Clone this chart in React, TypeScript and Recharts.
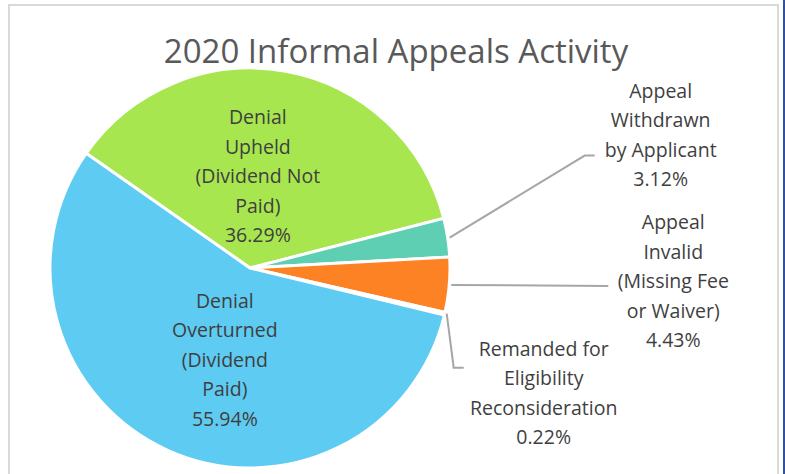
import { Cell, Pie, PieChart } from "recharts";

const categories = [
  "Denial\nUpheld\n(Dividend Not\nPaid)",
  "Appeal\nWithdrawn\nby Applicant",
  "Appeal\nInvalid\n(Missing Fee\nor Waiver)",
  "Remanded for\nEligibility\nReconsideration",
  "Denial\nOverturned\n(Dividend\nPaid)",
];
const shares = [36.29, 3.12, 4.43, 0.22, 55.94];
const colors = ["#a8e64f", "#5ecfb2", "#fd8224", "#ffd24d", "#5ecbf2"];

const data = categories.map((name, i) => ({ name, value: shares[i] }));

// label placement per slice: inside labels sit on the mid-angle ray,
// outside labels hang off the rim with an elbow leader line
const layout = [
  { inside: true, r: 0.47, dx: -9, dy: 0 },
  { inside: false, elbow: [137, -82], end: [147, -82], text: [213, -103] },
  { inside: false, elbow: [159, 1], end: [159, 1], text: [224, -4] },
  { inside: false, elbow: [9, 54], end: [19, 54], text: [99, 79] },
  { inside: true, r: 0.5, dx: 16, dy: 0 },
];

const RAD = Math.PI / 180;
const LINE_H = 29.5;
const textColor = "#3f3f3f";
const font = "'Open Sans', sans-serif";

function renderLabel(props: any) {
  const { cx, cy, midAngle, outerRadius, index, value } = props;
  const cfg: any = layout[index];
  const lines = [...categories[index].split("\n"), `${value.toFixed(2)}%`];
  const cos = Math.cos(-midAngle * RAD);
  const sin = Math.sin(-midAngle * RAD);
  let tx: number;
  let ty: number;
  let leader = null;
  if (cfg.inside) {
    const r = outerRadius * cfg.r;
    tx = cx + r * cos + cfg.dx;
    ty = cy + r * sin + cfg.dy;
  } else {
    const ex = cx + outerRadius * cos;
    const ey = cy + outerRadius * sin;
    tx = ex + cfg.text[0];
    ty = ey + cfg.text[1];
    leader = (
      <polyline
        points={`${ex + 2},${ey} ${ex + cfg.elbow[0]},${ey + cfg.elbow[1]} ${ex + cfg.end[0]},${ey + cfg.end[1]}`}
        fill="none"
        stroke="#a6a6a6"
        strokeWidth={2}
      />
    );
  }
  const top = ty - ((lines.length - 1) * LINE_H) / 2;
  return (
    <g key={`lbl-${index}`}>
      {leader}
      <text
        x={tx}
        y={top}
        textAnchor="middle"
        fill={textColor}
        fontSize={19.5}
        fontFamily={font}
      >
        {lines.map((l, i) => (
          <tspan key={i} x={tx} y={top + i * LINE_H} dominantBaseline="central">
            {l}
          </tspan>
        ))}
      </text>
    </g>
  );
}

export default function App() {
  return (
    <div
      style={{
        position: "absolute",
        left: 0,
        top: 0,
        width: 785,
        height: 474,
        background: "#fff",
        overflow: "hidden",
      }}
    >
      <div
        style={{
          position: "absolute",
          left: 8,
          top: 4,
          width: 771,
          height: 480,
          border: "2px solid #d9d9d9",
          boxSizing: "border-box",
        }}
      />
      <div
        style={{
          position: "absolute",
          left: 783,
          top: 0,
          width: 2,
          height: 474,
          background: "#2f52a0",
        }}
      />
      <div style={{ position: "absolute", left: 0, top: 0 }}>
        <PieChart width={785} height={474} margin={{ top: 0, right: 0, bottom: 0, left: 0 }}>
          <text
            x={396}
            y={50}
            textAnchor="middle"
            dominantBaseline="central"
            fill="#595959"
            fontSize={33}
            fontFamily={font}
          >
            2020 Informal Appeals Activity
          </text>
          <Pie
            data={data}
            dataKey="value"
            nameKey="name"
            cx={250}
            cy={268}
            outerRadius={200}
            startAngle={145}
            endAngle={-215}
            stroke="#ffffff"
            strokeWidth={3}
            label={renderLabel}
            labelLine={false}
            isAnimationActive={false}
          >
            {data.map((d, i) => (
              <Cell key={d.name} fill={colors[i]} />
            ))}
          </Pie>
        </PieChart>
      </div>
    </div>
  );
}
